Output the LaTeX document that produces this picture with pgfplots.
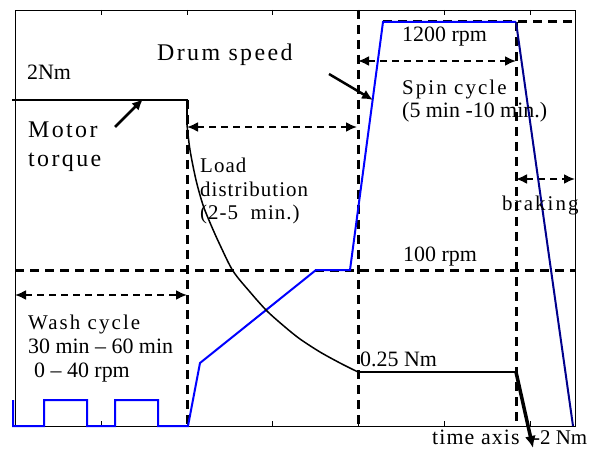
\documentclass[border=0pt]{standalone}
\usepackage{pgfplots}
\pgfplotsset{compat=1.18}
\usepackage{fontspec}
\setmainfont{Liberation Serif}
\newfontfamily\spc[LetterSpace=10]{Liberation Serif}
\newfontfamily\spl[LetterSpace=5]{Liberation Serif}
\usetikzlibrary{arrows.meta}
\definecolor{navyb}{RGB}{0,0,140}

\begin{document}
\begin{tikzpicture}[
  thickdash/.style={black, line width=3bp, dash pattern=on 9bp off 6bp},
  arrdash/.style={black, line width=2bp, dash pattern=on 7bp off 5bp,
    {Latex[length=11bp,width=10bp]}-{Latex[length=11bp,width=10bp]}},
  lbl/.style={anchor=base west, inner sep=0pt, font=\fontsize{22}{25}\selectfont},
  slbl/.style={anchor=base west, inner sep=0pt, font=\spc\fontsize{21}{24}\selectfont},
  llbl/.style={anchor=base west, inner sep=0pt, font=\spl\fontsize{21}{24}\selectfont},
  blbl/.style={anchor=base west, inner sep=0pt, font=\spc\fontsize{24}{28}\selectfont},
]
\begin{axis}[
  scale only axis, width=560bp, height=416bp,
  xmin=15, xmax=575, ymin=22, ymax=438,
  enlargelimits=false,
  xtick={100.9,186.8,272.7,358.6,444.5,530.4}, xticklabel=\empty,
  ytick=\empty,
  major tick length=5bp,
  tick style={black, line width=0.6bp},
  axis line style={line width=0.8bp},
  clip=false,
]
% reference dashed lines
\addplot[thickdash] coordinates {(15,178) (575,178)};
\addplot[thickdash] coordinates {(383,426) (575,426)};
\addplot[thickdash] coordinates {(187,348) (187,22)};
\addplot[thickdash] coordinates {(358,438) (358,22)};
\addplot[thickdash] coordinates {(516,426) (516,22)};
% phase arrows
\addplot[arrdash] coordinates {(15,153) (187,153)};
\addplot[arrdash] coordinates {(187,321) (357,321)};
\addplot[arrdash] coordinates {(358,387) (516,387)};
\addplot[arrdash] coordinates {(516,269) (575,269)};
% drum speed
\addplot[blue, line width=2bp] coordinates {
 (13,48) (13,22) (44,22) (44,48) (87,48) (87,22) (115,22) (115,48)
 (158,48) (158,22) (188,22) (200,85) (316,178) (350,178) (383,426) (516,426)};
\addplot[navyb, line width=2bp] coordinates {(516,426) (573,22)};
% motor torque
\addplot[black, line width=2.5bp] coordinates {(12,348) (187,348) (187,323)};
\addplot[black, line width=1.5bp, smooth] coordinates {
 (187,323) (190,298) (196,268) (203,243) (211,223) (220,203) (233,177)
 (250,156) (267,137) (285,121) (300,109) (320,96) (340,85) (358,76)};
\addplot[black, line width=2bp] coordinates {(358,76) (516,76)};
\addplot[black, line width=3.5bp, -{Latex[length=12bp,width=11bp]}] coordinates {(516,76) (533,0)};
% pointer arrows
\addplot[black, line width=2.5bp, -{Latex[length=11bp,width=10bp]}] coordinates {(115,321) (143,349)};
\addplot[black, line width=2.5bp, -{Latex[length=11bp,width=10bp]}] coordinates {(329,374) (373,348)};
% labels
\node[blbl] at (axis cs:157,387) {Drum speed};
\node[lbl] at (axis cs:27,368) {2Nm};
\node[blbl] at (axis cs:28,310) {Motor};
\node[blbl] at (axis cs:28,281) {torque};
\node[llbl] at (axis cs:200,275) {Load};
\node[llbl] at (axis cs:200,251) {distribution};
\node[llbl] at (axis cs:200,228) {(2-5~ min.)};
\node[lbl] at (axis cs:402,406) {1200 rpm};
\node[slbl] at (axis cs:402,353) {Spin cycle};
\node[lbl] at (axis cs:402,330) {(5 min -10 min.)};
\node[slbl] at (axis cs:502,237) {braking};
\node[lbl] at (axis cs:403,187) {100 rpm};
\node[slbl] at (axis cs:28,119) {Wash cycle};
\node[lbl] at (axis cs:28,95) {30 min – 60 min};
\node[lbl] at (axis cs:34,71) {0 – 40 rpm};
\node[lbl] at (axis cs:360,82) {0.25 Nm};
\node[anchor=base west, inner sep=0pt, font=\spl\fontsize{22}{25}\selectfont] at (axis cs:432,4) {time axis};
\node[anchor=base west, inner sep=0pt, font=\fontsize{21}{24}\selectfont] at (axis cs:533,4) {-2 Nm};
\coordinate (bl) at (axis cs:0,0);
\coordinate (tr) at (axis cs:589,448);
\end{axis}
\pgfresetboundingbox
\path[use as bounding box] (bl) rectangle (tr);
\end{tikzpicture}
\end{document}
